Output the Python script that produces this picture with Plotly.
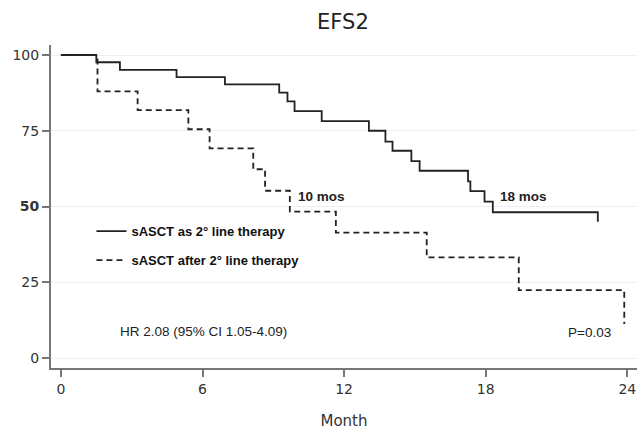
import plotly.graph_objects as go

# Kaplan-Meier step data
solid_months = [0, 1.5, 2.5, 4.9, 6.95, 9.25, 9.6, 9.9, 11.05, 13.05, 13.75, 14.05, 14.85, 15.2, 17.25, 17.35, 17.95, 18.3, 22.75]
solid_surv = [100, 97.6, 95.1, 92.7, 90.3, 87.6, 84.7, 81.5, 78.2, 75.0, 71.4, 68.4, 65.0, 61.8, 58.3, 55.1, 51.6, 48.1, 45.0]

dashed_months = [0, 1.55, 3.25, 5.4, 6.3, 8.15, 8.65, 9.7, 11.65, 15.5, 19.4, 23.87]
dashed_surv = [100, 88.0, 81.8, 75.5, 69.2, 62.3, 55.2, 48.3, 41.4, 33.2, 22.4, 11.2]

x_ticks = [0, 6, 12, 18, 24]
x_ticklabels = ["0", "6", "12", "18", "24"]
y_ticks = [0, 25, 50, 75, 100]
y_ticklabels = ["0", "25", "<b>50</b>", "75", "100"]

series_names = ["sASCT as 2° line therapy", "sASCT after 2° line therapy"]

tick_font = "DejaVu Sans, Verdana, sans-serif"
text_font = "Liberation Sans, Arial, sans-serif"

fig = go.Figure()
fig.add_trace(go.Scatter(
    x=solid_months, y=solid_surv, mode="lines", line_shape="hv",
    line=dict(color="#222222", width=1.8),
    name=series_names[0], legendgroup="a",
))
fig.add_trace(go.Scatter(
    x=dashed_months, y=dashed_surv, mode="lines", line_shape="hv",
    line=dict(color="#222222", width=1.8, dash="6px,4px"),
    name=series_names[1], legendgroup="b",
))

ann_font = dict(family=text_font, size=13.5, color="#222")
fig.add_annotation(x=9.95, y=53.2, text="<b>10 mos</b>", showarrow=False,
                   xanchor="left", yanchor="middle", font=ann_font)
fig.add_annotation(x=18.5, y=53.2, text="<b>18 mos</b>", showarrow=False,
                   xanchor="left", yanchor="middle", font=ann_font)
fig.add_annotation(x=2.4, y=8.9, text="HR 2.08 (95% CI 1.05-4.09)", showarrow=False,
                   xanchor="left", yanchor="middle", font=dict(family=text_font, size=13.5, color="#222"))
fig.add_annotation(x=21.4, y=8.3, text="P=0.03", showarrow=False,
                   xanchor="left", yanchor="middle", font=dict(family=text_font, size=13.5, color="#222"))

fig.update_layout(
    width=641, height=430,
    margin=dict(l=51, r=4, t=45, b=62),
    paper_bgcolor="white", plot_bgcolor="white",
    font=dict(family=tick_font, size=14, color="#333"),
    title=dict(text="EFS2", x=0.535, xanchor="center", y=0.95, yanchor="middle",
               font=dict(family=tick_font, size=21, color="#222")),
    showlegend=True,
    legend=dict(x=0.069, y=0.47, xanchor="left", yanchor="top",
                bgcolor="rgba(0,0,0,0)",
                font=dict(family=text_font, size=13, color="#111", weight="bold"),
                tracegroupgap=9, itemwidth=30),
)
fig.update_xaxes(
    range=[-0.42, 24.41], tickvals=x_ticks, ticktext=x_ticklabels, automargin=False,
    showgrid=False, zeroline=False, showline=True, linecolor="#777", linewidth=2,
    ticks="outside", ticklen=7, tickcolor="#777", tickwidth=1.5,
    tickfont=dict(family=tick_font, size=14, color="#333"),
    title=dict(text="Month", font=dict(family=tick_font, size=15, color="#333"), standoff=22),
)
fig.update_yaxes(
    range=[-3.3, 103.3], tickvals=y_ticks, ticktext=y_ticklabels, automargin=False,
    showgrid=True, gridcolor="#efefef", gridwidth=1, zeroline=False,
    showline=True, linecolor="#777", linewidth=2,
    ticks="outside", ticklen=7, tickcolor="#777", tickwidth=1.5,
    tickfont=dict(family=tick_font, size=14, color="#333"),
)

fig.write_html("out.html", config={"displayModeBar": False},
               post_script="document.body.style.margin='0';")
